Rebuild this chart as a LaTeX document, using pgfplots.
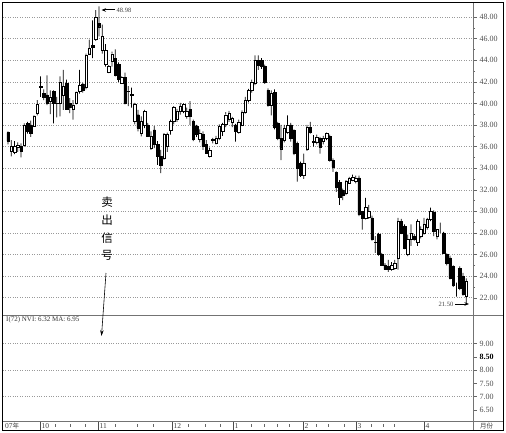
\documentclass[border=0pt]{standalone}
\usepackage{fontspec}
\setmainfont{Liberation Serif}
\newfontfamily\cjk{Noto Sans CJK SC}
\usepackage{pgfplots}
\usepackage{pgfplotstable}
\pgfplotsset{compat=1.18}
\usetikzlibrary{arrows.meta}

\pgfplotstableread{
x o h l c
8 37.3 37.4 36.2 36.5
11.25 35.6 36.6 35.1 36.0
14.5 35.5 36.5 35.3 36.0
17.75 35.9 36.4 35.5 36.1
21 36.0 36.3 35.0 35.6
24.25 36.1 38.15 36.0 38.0
27.5 38.15 38.3 37.2 37.4
30.75 38.0 38.4 36.9 37.2
34 37.9 38.9 37.85 38.8
37.25 39.1 40.3 38.9 39.9
40.5 41.5 42.5 40.6 41.6
43.75 40.9 41.3 40.3 40.6
47 40.8 42.6 39.85 40.0
50.25 40.2 41.2 39.0 40.6
53.5 41.1 41.2 38.15 40.0
56.75 40.0 40.6 38.7 40.05
60 40.0 42.5 38.8 42.0
63.25 40.8 43.1 39.4 41.6
66.5 41.85 42.2 39.4 39.5
69.75 40.0 40.5 39.1 39.6
73 39.45 40.3 38.5 39.85
76.25 40.0 41.1 39.9 41.0
79.5 41.1 43.1 40.9 41.7
82.75 41.8 41.9 41.0 41.2
86 41.5 44.6 41.3 44.5
89.25 44.6 45.9 44.5 45.1
92.5 45.4 47.7 44.2 45.2
95.75 45.9 48.65 45.8 48.0
99 47.4 48.98 46.2 47.1
102.25 44.9 47.3 44.6 46.2
105.5 43.6 45.5 43.4 44.9
108.75 42.9 43.55 42.8 43.4
112 43.9 44.8 43.4 44.6
115.25 44.2 45.0 42.5 42.6
118.5 43.6 43.8 42.0 42.2
121.75 41.9 42.5 41.8 42.4
125 42.4 42.85 39.9 40.05
128.25 41.1 41.6 39.75 41.15
131.5 40.85 41.45 39.6 40.75
134.75 38.35 40.05 38.05 39.9
138 38.95 39.4 37.4 37.7
141.25 37.25 38.8 36.95 38.35
144.5 38.0 39.4 37.7 39.3
147.75 38.0 38.2 36.9 36.95
151 35.85 37.4 35.7 36.95
154.25 37.55 37.9 35.85 36.2
157.5 36.2 36.5 34.3 35.1
160.75 35.1 35.7 33.55 34.3
164 34.9 37.25 34.8 37.1
167.25 36.0 37.3 35.5 37.1
170.5 37.55 38.5 37.1 38.35
173.75 38.35 39.75 38.05 39.6
177 38.5 39.5 38.3 39.3
180.25 39.3 40.05 38.95 39.75
183.5 39.3 40.0 39.1 39.9
186.75 38.8 39.6 38.6 39.3
190 39.45 40.2 38.0 38.8
193.25 38.35 38.5 36.5 36.65
196.5 37.9 38.0 36.9 37.1
199.75 36.65 37.6 36.4 37.25
203 37.1 37.4 35.7 36.0
206.25 36.2 36.6 35.4 35.4
209.5 35.1 35.9 35.0 35.7
212.75 36.6 36.8 36.3 36.65
216 36.3 37.0 36.2 36.8
219.25 36.8 38.05 36.6 37.9
222.5 37.4 38.2 37.0 38.05
225.75 38.05 39.2 37.8 38.95
229 38.5 39.3 38.3 39.1
232.25 38.3 38.75 37.8 38.6
235.5 38.0 38.1 36.45 37.4
238.75 37.35 38.5 37.2 38.3
242 38.0 39.35 37.9 39.2
245.25 39.2 40.6 39.05 40.3
248.5 40.3 41.35 40.1 41.2
251.75 41.2 42.2 41.0 42.0
255 41.85 44.45 41.7 44.0
258.25 44.0 44.45 43.1 43.55
261.5 44.0 44.2 43.2 43.4
264.75 43.4 43.6 41.8 42.0
268 41.2 41.4 39.7 39.85
271.25 39.85 41.2 38.9 40.9
274.5 41.05 41.3 37.6 37.8
277.75 38.15 38.3 36.6 36.75
281 36.75 38.0 34.75 35.8
284.25 36.6 38.0 36.4 37.7
287.5 37.35 38.9 37.2 38.0
290.75 38.0 38.2 36.45 36.75
294 37.5 37.6 35.2 35.35
297.25 36.3 36.45 32.75 34.0
300.5 34.45 34.6 33.2 33.35
303.75 33.35 35.35 33.0 34.45
307 35.8 38.0 35.6 37.8
310.25 37.8 38.3 37.2 37.35
313.5 36.45 37.05 36.0 36.5
316.75 36.45 37.1 36.2 36.9
320 36.75 36.9 35.35 35.95
323.25 36.5 37.0 36.2 36.8
326.5 36.75 37.3 36.6 37.2
329.75 36.95 37.1 34.6 34.75
333 34.75 34.9 33.65 34.1
336.25 33.6 33.7 31.8 32.25
339.5 32.7 32.9 30.6 31.35
342.75 31.95 32.1 31.05 31.5
346 31.7 32.9 31.5 32.8
349.25 32.65 33.2 32.6 33.1
352.5 32.9 33.4 32.8 33.2
355.75 32.8 33.3 32.6 33.1
359 33.1 33.3 29.55 29.7
362.25 30.0 30.0 28.3 29.4
365.5 29.4 31.25 29.25 30.35
368.75 29.5 30.6 29.3 30.0
372 29.4 29.6 27.3 27.4
375.25 27.1 27.7 26.15 27.15
378.5 27.85 28.0 25.9 26.0
381.75 26.0 26.15 25.0 25.05
385 25.05 25.2 24.6 24.6
388.25 24.9 25.5 24.4 24.6
391.5 24.6 25.3 24.5 25.05
394.75 24.75 25.5 24.6 25.2
398 25.7 29.4 24.6 29.1
401.25 29.1 29.3 27.9 28.0
404.5 28.6 28.8 26.5 26.6
407.75 26.0 27.85 25.85 27.4
411 27.4 28.8 26.8 28.0
414.25 27.7 27.9 27.3 27.4
417.5 27.1 29.25 26.8 29.1
420.75 27.7 28.6 27.5 28.3
424 28.0 29.4 27.85 28.8
427.25 28.5 29.4 28.3 29.25
430.5 29.25 30.35 29.1 30.0
433.75 29.9 30.1 27.7 28.15
437 27.7 28.3 27.4 28.3
440.25 28.5 28.95 28.0 28.5
443.5 28.0 28.1 26.1 26.15
446.75 26.0 26.1 25.0 25.2
450 25.7 25.9 23.7 23.85
453.25 24.9 25.0 23.0 23.2
456.5 22.9 23.4 22.1 22.9
459.75 24.75 24.9 22.7 22.9
463 24.0 24.3 22.2 22.3
466.25 22.1 23.8 21.5 23.5
}\candles

\begin{document}
\begin{tikzpicture}
\useasboundingbox (0,0) rectangle (506pt,432pt);

% upper panel: grid, right axis, wicks
\begin{axis}[
  at={(3pt,117pt)}, anchor=south west, scale only axis,
  width=470pt, height=312pt,
  xmin=3, xmax=473, ymin=20.4, ymax=49.3, enlargelimits=false,
  axis x line=none, axis y line*=right, axis line style={draw=none},
  ytick={22,24,...,48}, minor ytick={23,25,...,47},
  tick align=outside, major tick length=3.5pt, minor tick length=2pt,
  tick style={black!60, line width=0.4pt},
  ymajorgrids, major grid style={dash pattern=on 0.8pt off 1.6pt, black!40, line width=0.5pt},
  yticklabel style={font=\fontsize{8}{9}\selectfont, text=black!70, xshift=-0.5pt,
    /pgf/number format/.cd, fixed, fixed zerofill, precision=2, assume math mode=true},
  ybar stacked, bar width=0.7pt,
]
\addplot[draw=none, fill=none] table[x=x, y=l] \candles;
\addplot[draw=none, fill=black] table[x=x, y expr=\thisrow{h}-\thisrow{l}] \candles;
\end{axis}

% upper panel: candle bodies
\begin{axis}[
  at={(3pt,117pt)}, anchor=south west, scale only axis,
  width=470pt, height=312pt,
  xmin=3, xmax=473, ymin=20.4, ymax=49.3, enlargelimits=false,
  hide axis, ybar stacked, bar width=2.5pt,
]
\addplot[draw=none, fill=none] table[x=x, y expr={min(\thisrow{o},\thisrow{c})}] \candles;
\addplot[draw=black, fill=white, line width=0.45pt] table[x=x, y expr={max(\thisrow{c}-\thisrow{o},0)}] \candles;
\addplot[draw=black, fill=black, line width=0.45pt] table[x=x, y expr={max(\thisrow{o}-\thisrow{c},0)}] \candles;
\end{axis}

% lower panel (NVI)
\begin{axis}[
  at={(3pt,10pt)}, anchor=south west, scale only axis,
  width=470pt, height=107pt,
  xmin=3, xmax=473, ymin=6.045, ymax=10.08, enlargelimits=false,
  axis x line=none, axis y line*=right, axis line style={draw=none},
  ytick={7,8,9}, yticklabels={7.00,8.00,9.00},
  extra y ticks={6.5,7.5,8.5}, extra y tick labels={6.50,7.50,\textbf{\textcolor{black}{8.50}}},
  extra y tick style={grid=none},
  tick align=outside, major tick length=3.5pt,
  tick style={black!60, line width=0.4pt},
  ymajorgrids, major grid style={dash pattern=on 0.8pt off 1.6pt, black!40, line width=0.5pt},
  yticklabel style={font=\fontsize{8}{9}\selectfont, text=black!70, xshift=-0.5pt},
]
\end{axis}

% frame and panel lines
\draw[black!55, line width=0.6pt] (2.5pt,117pt) -- (503pt,117pt);
\draw[black!55, line width=0.6pt] (2.5pt,10.5pt) -- (503pt,10.5pt);
\draw[black!55, line width=0.6pt] (473pt,2pt) -- (473pt,429.5pt);
\draw[black, line width=1pt] (2.5pt,2pt) rectangle (503pt,429.5pt);

% month ticks
\foreach \m in {40,98,172,233,303,356,424}
  \draw[black!70, line width=0.5pt] (\m pt,10.5pt) -- (\m pt,2.5pt);
\foreach \m in {55,70,85,115,137,153,188,205,220,251,264,277,289,316,328,344,371,383,394}
  \draw[black!60, line width=0.4pt] (\m pt,8pt) -- (\m pt,5pt);

% month labels
\begin{scope}[every node/.style={font=\fontsize{7.5}{8}\selectfont, text=black!75, inner sep=0pt, anchor=west}]
\node at (5pt,6pt) {07{\cjk\fontsize{6.5}{7}\selectfont 年}};
\node at (41.5pt,5.5pt) {10};
\node at (99.5pt,5.5pt) {11};
\node at (173.5pt,5.5pt) {12};
\node at (234.5pt,5.5pt) {1};
\node at (304.5pt,5.5pt) {2};
\node at (357.5pt,5.5pt) {3};
\node at (425.5pt,5.5pt) {4};
\node at (480pt,6pt) {{\cjk\fontsize{6.5}{7}\selectfont 月份}};
\end{scope}

% annotations
\node[anchor=west, inner sep=0pt, font=\fontsize{6.5}{7}\selectfont, text=black!75] at (116.5pt,422pt) {48.98};
\draw[line width=1pt, -{Stealth[length=4.5pt,width=3.5pt]}] (115pt,422pt) -- (101.5pt,422pt);
\node[anchor=east, inner sep=0pt, font=\fontsize{6.5}{7}\selectfont, text=black!75] at (453.5pt,128pt) {21.50};
\draw[line width=1pt, -{Stealth[length=4.5pt,width=3.5pt]}] (455pt,128pt) -- (469pt,128pt);

\begin{scope}[every node/.style={font=\cjk\fontsize{11.5}{12}\selectfont, inner sep=0pt}]
\node at (107pt,230pt) {卖};
\node at (107pt,212pt) {出};
\node at (107pt,194pt) {信};
\node at (107pt,176.5pt) {号};
\end{scope}
\draw[line width=0.6pt, -{Stealth[length=6pt,width=3.5pt]}] (106pt,159pt) -- (101.5pt,96pt);

\node[anchor=west, inner sep=0pt, font=\fontsize{7}{8}\selectfont, text=black!80] at (6pt,112.5pt) {I(72) NVI: 6.32 MA: 6.95};
\end{tikzpicture}
\end{document}
